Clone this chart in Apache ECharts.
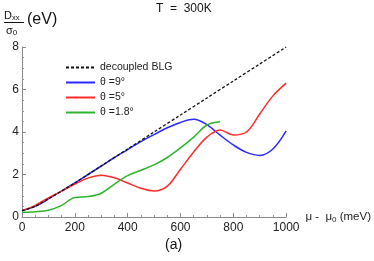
<!DOCTYPE html>
<html><head><meta charset="utf-8">
<script src="https://cdn.jsdelivr.net/npm/echarts@6/dist/echarts.min.js"></script>
<style>html,body{margin:0;padding:0;background:#fff}#c{width:374px;height:261px}</style>
</head><body><div id="c"></div>
<script>
var seriesNames = ['decoupled BLG', 'θ =9°', 'θ =5°', 'θ =1.8°'];
var xTicks = [0, 200, 400, 600, 800, 1000];
var yTicks = [0, 2, 4, 6, 8];

var blgMu = [0, 50, 100, 150, 200, 300, 400, 500, 600, 700, 800, 900, 1000];
var blgD  = [0.30, 0.50, 0.85, 1.22, 1.60, 2.40, 3.20, 4.00, 4.80, 5.60, 6.40, 7.20, 8.00];

var t9Mu = [0, 50, 100, 150, 200, 250, 300, 350, 400, 450, 500, 550, 600, 650, 700, 750, 800, 850, 900, 950, 1000];
var t9D  = [0.30, 0.50, 0.85, 1.22, 1.60, 2.00, 2.40, 2.80, 3.17, 3.55, 3.88, 4.20, 4.45, 4.60, 4.35, 3.85, 3.39, 3.04, 2.90, 3.20, 4.05];

var t5Mu = [0, 50, 100, 150, 200, 250, 300, 350, 400, 450, 500, 550, 600, 650, 700, 750, 800, 850, 900, 950, 1000];
var t5D  = [0.30, 0.55, 0.90, 1.22, 1.55, 1.83, 1.97, 1.85, 1.60, 1.35, 1.22, 1.45, 2.25, 3.06, 3.76, 4.10, 3.86, 4.00, 4.85, 5.70, 6.30];

var t18Mu = [0, 50, 100, 150, 200, 250, 300, 350, 400, 450, 500, 550, 600, 650, 700, 750];
var t18D  = [0.22, 0.25, 0.32, 0.55, 0.92, 0.96, 1.12, 1.55, 1.95, 2.20, 2.45, 2.80, 3.25, 3.76, 4.33, 4.48];

function pairs(xs, ys) { return xs.map(function (x, i) { return [x, ys[i]]; }); }

var FONT = 'Liberation Sans';
var chart = echarts.init(document.getElementById('c'), null, {renderer: 'canvas'});
chart.setOption({
  animation: false,
  backgroundColor: '#fff',
  grid: {left: 22, right: 78, top: 47, bottom: 44},
  legend: {
    orient: 'vertical', left: 60, top: 57, itemWidth: 29, itemHeight: 10, itemGap: 4,
    data: seriesNames,
    itemStyle: {opacity: 0},
    lineStyle: {width: 2},
    textStyle: {fontFamily: FONT, fontSize: 10.5, color: '#222'}
  },
  xAxis: {
    type: 'value', min: xTicks[0], max: xTicks[xTicks.length - 1], interval: 200,
    splitLine: {show: false},
    axisLine: {lineStyle: {color: '#888', width: 1}},
    axisTick: {inside: true, length: 4, lineStyle: {color: '#888'}},
    minorTick: {show: true, splitNumber: 4, length: 2, lineStyle: {color: '#999'}},
    axisLabel: {fontFamily: FONT, fontSize: 12, color: '#222', margin: 5,
                formatter: function (v) { return String(v); }},
    name: '{a|μ -  μ}{s|0}{a| (meV)}', nameLocation: 'end', nameGap: 4,
    nameTextStyle: {rich: {
      a: {fontFamily: FONT, fontSize: 11.5, color: '#222'},
      s: {fontFamily: FONT, fontSize: 8, color: '#222', verticalAlign: 'bottom', padding: [6, 0, 0, 0]}
    }}
  },
  yAxis: {
    type: 'value', min: yTicks[0], max: yTicks[yTicks.length - 1], interval: 2,
    splitLine: {show: false},
    axisLine: {show: true, lineStyle: {color: '#888', width: 1}},
    axisTick: {show: true, inside: true, length: 4, lineStyle: {color: '#888'}},
    minorTick: {show: true, splitNumber: 4, length: 2, lineStyle: {color: '#999'}},
    axisLabel: {fontFamily: FONT, fontSize: 12, color: '#222', margin: 3}
  },
  series: [
    {name: seriesNames[1], type: 'line', data: pairs(t9Mu, t9D), smooth: 0.35, symbol: 'none',
     lineStyle: {color: '#2b2bff', width: 1.5}, itemStyle: {color: '#2b2bff'}, z: 3},
    {name: seriesNames[2], type: 'line', data: pairs(t5Mu, t5D), smooth: 0.35, symbol: 'none',
     lineStyle: {color: '#ff2b2b', width: 1.5}, itemStyle: {color: '#ff2b2b'}, z: 3},
    {name: seriesNames[3], type: 'line', data: pairs(t18Mu, t18D), smooth: 0.35, symbol: 'none',
     lineStyle: {color: '#2eb42e', width: 1.5}, itemStyle: {color: '#2eb42e'}, z: 3},
    {name: seriesNames[0], type: 'line', data: pairs(blgMu, blgD), smooth: 0.3, symbol: 'none',
     lineStyle: {color: '#111', width: 1.3, type: [3, 2]}, itemStyle: {color: '#111'}, z: 4}
  ],
  graphic: [
    {type: 'text', left: 156, top: 3, style: {text: 'T  =  300K', font: '12px ' + FONT, fill: '#111'}},
    {type: 'text', x: 4, y: 9, style: {text: '{d|D}{s|xx}', rich: {
      d: {font: '11px ' + FONT, fill: '#111'},
      s: {font: '7.5px ' + FONT, fill: '#111', verticalAlign: 'bottom', padding: [5, 0, 0, 0]}}}},
    {type: 'line', shape: {x1: 4, y1: 22.5, x2: 24, y2: 22.5}, style: {stroke: '#111', lineWidth: 1}},
    {type: 'text', x: 6, y: 24, style: {text: '{d|σ}{s|0}', rich: {
      d: {font: '11px ' + FONT, fill: '#111'},
      s: {font: '8px ' + FONT, fill: '#111', verticalAlign: 'bottom', padding: [5, 0, 0, 0]}}}},
    {type: 'text', x: 27, y: 12, style: {text: '(eV)', font: '16px ' + FONT, fill: '#111'}},
    {type: 'text', x: 165, y: 238, style: {text: '(a)', font: '14px ' + FONT, fill: '#111'}}
  ]
});
</script></body></html>
